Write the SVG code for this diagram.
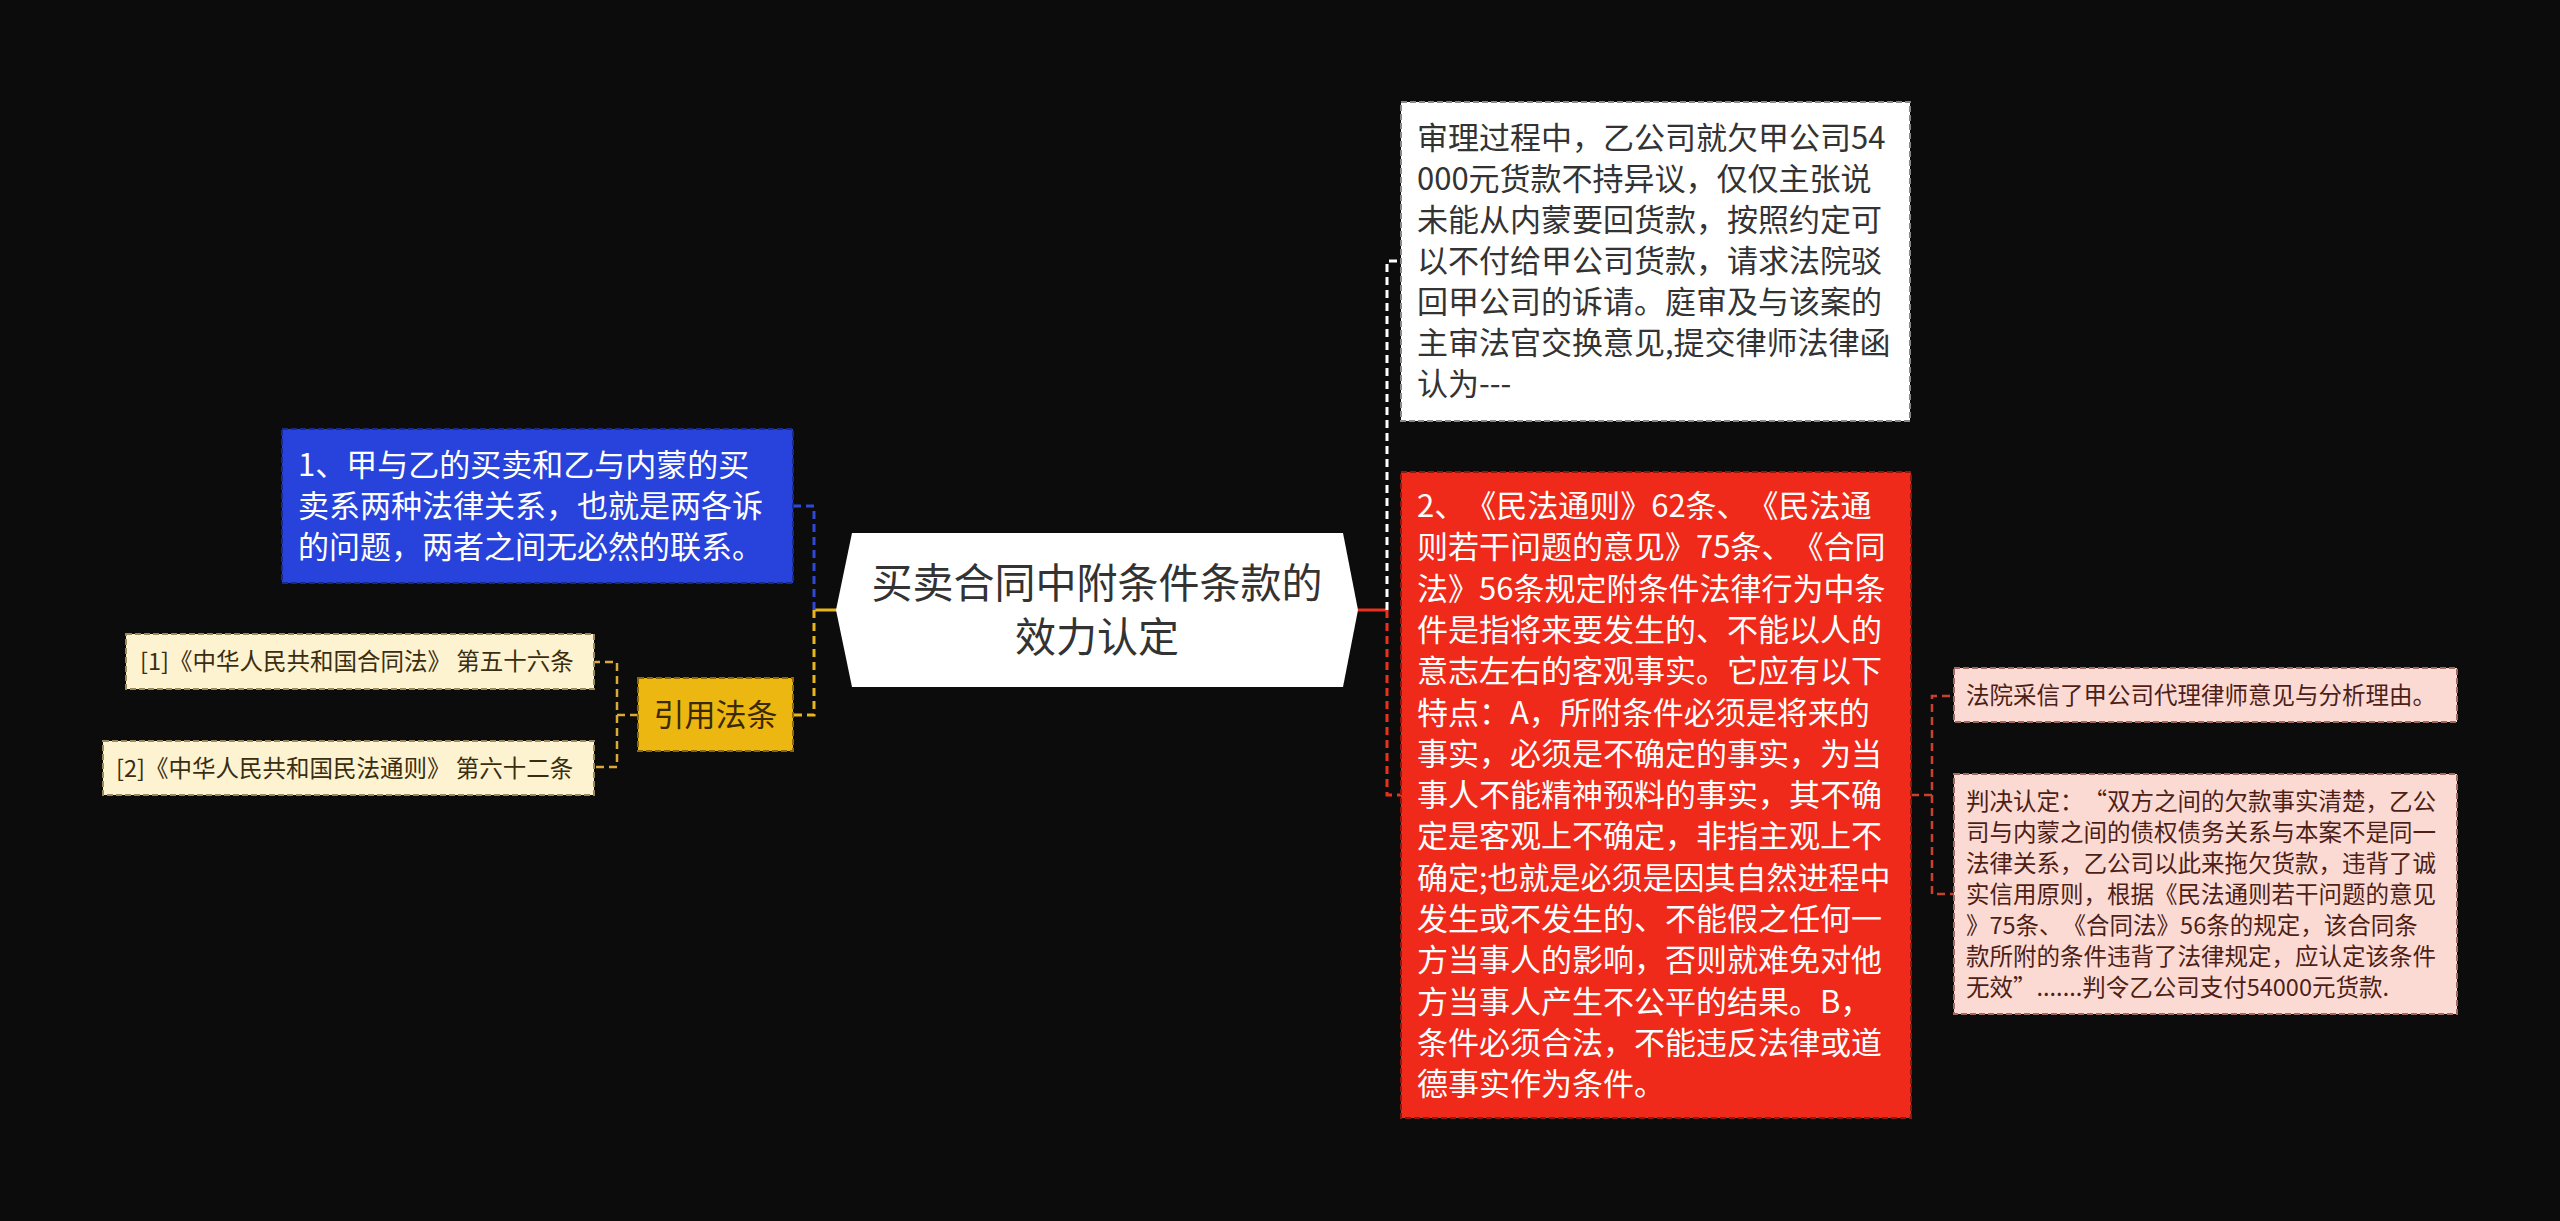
<svg xmlns="http://www.w3.org/2000/svg" width="2560" height="1221" viewBox="0 0 2560 1221">
<style>
text{font-family:"Noto Sans CJK SC","Noto Sans",sans-serif;text-spacing-trim:space-all;font-feature-settings:"chws" 0,"halt" 0;}
.box{stroke-width:2;stroke-dasharray:6 3;}
.c{fill:none;stroke-width:3;stroke-dasharray:8 5;}
.c2{fill:none;stroke-width:2.5;stroke-dasharray:8 5;}
.t31{font-size:31px;}
.t23{font-size:23.5px;}
</style>
<rect x="0" y="0" width="2560" height="1221" fill="#0c0c0c"/>
<g id="connectors">
  <line x1="837" y1="610" x2="814" y2="610" stroke="#E8B51A" stroke-width="3"/>
  <path class="c" d="M814,610 V506 H793" stroke="#2F48D8"/>
  <path class="c" d="M814,610 V715 H793" stroke="#E8B51A"/>
  <path class="c2" d="M638,715 H617 V662 H595" stroke="#D9A93A"/>
  <path class="c2" d="M617,715 V767 H595" stroke="#D9A93A"/>
  <line x1="1358" y1="610" x2="1387" y2="610" stroke="#E8321F" stroke-width="3"/>
  <path class="c" d="M1387,610 V261 H1401" stroke="#FFFFFF"/>
  <path class="c" d="M1387,610 V795 H1401" stroke="#E8321F"/>
  <path class="c2" d="M1911,795 H1932 V696 H1954" stroke="#C9402F"/>
  <path class="c2" d="M1932,795 V894 H1954" stroke="#C9402F"/>
</g>
<g id="root">
  <polygon points="836,610 852,533 1343,533 1358,610 1343,687 852,687" fill="#FFFFFF"/>
  <text x="1097" y="598" font-size="41" fill="#333333" text-anchor="middle">买卖合同中附条件条款的<tspan x="1097" dy="54">效力认定</tspan></text>
</g>
<g id="node-blue">
  <rect class="box" x="282" y="429" width="511" height="154" fill="#2743DB" stroke="#1A2A8A"/>
  <text class="t31" fill="#FFFFFF" x="298" y="476">1、甲与乙的买卖和乙与内蒙的买<tspan x="298" dy="41">卖系两种法律关系，也就是两各诉</tspan><tspan x="298" dy="41">的问题，两者之间无必然的联系。</tspan></text>
</g>
<g id="node-yellow">
  <rect class="box" x="638" y="678" width="155" height="73" fill="#EDB712" stroke="#8A6A08"/>
  <text class="t31" fill="#3B2A00" x="715.5" y="725.5" text-anchor="middle">引用法条</text>
</g>
<g id="node-cite1">
  <rect class="box" x="126" y="634" width="468" height="55" fill="#FDF3D0" stroke="#9A8A5A"/>
  <text class="t23" fill="#3A2E12" x="140" y="669.5">[1]《中华人民共和国合同法》 第五十六条</text>
</g>
<g id="node-cite2">
  <rect class="box" x="103" y="741" width="491" height="54" fill="#FDF3D0" stroke="#9A8A5A"/>
  <text class="t23" fill="#3A2E12" x="116" y="776.5">[2]《中华人民共和国民法通则》 第六十二条</text>
</g>
<g id="node-white">
  <rect class="box" x="1401" y="102" width="509" height="319" fill="#FFFFFF" stroke="#888888"/>
  <text class="t31" fill="#333333" x="1417" y="149">审理过程中，乙公司就欠甲公司54<tspan x="1417" dy="41">000元货款不持异议，仅仅主张说</tspan><tspan x="1417" dy="41">未能从内蒙要回货款，按照约定可</tspan><tspan x="1417" dy="41">以不付给甲公司货款，请求法院驳</tspan><tspan x="1417" dy="41">回甲公司的诉请。庭审及与该案的</tspan><tspan x="1417" dy="41">主审法官交换意见,提交律师法律函</tspan><tspan x="1417" dy="41">认为---</tspan></text>
</g>
<g id="node-red">
  <rect class="box" x="1401" y="472" width="510" height="646" fill="#F02A1B" stroke="#8A1A10"/>
  <text class="t31" fill="#FFFFFF" x="1417" y="517">2、《民法通则》62条、《民法通<tspan x="1417" dy="41.3">则若干问题的意见》75条、《合同</tspan><tspan x="1417" dy="41.3">法》56条规定附条件法律行为中条</tspan><tspan x="1417" dy="41.3">件是指将来要发生的、不能以人的</tspan><tspan x="1417" dy="41.3">意志左右的客观事实。它应有以下</tspan><tspan x="1417" dy="41.3">特点：A，所附条件必须是将来的</tspan><tspan x="1417" dy="41.3">事实，必须是不确定的事实，为当</tspan><tspan x="1417" dy="41.3">事人不能精神预料的事实，其不确</tspan><tspan x="1417" dy="41.3">定是客观上不确定，非指主观上不</tspan><tspan x="1417" dy="41.3">确定;也就是必须是因其自然进程中</tspan><tspan x="1417" dy="41.3">发生或不发生的、不能假之任何一</tspan><tspan x="1417" dy="41.3">方当事人的影响，否则就难免对他</tspan><tspan x="1417" dy="41.3">方当事人产生不公平的结果。B，</tspan><tspan x="1417" dy="41.3">条件必须合法，不能违反法律或道</tspan><tspan x="1417" dy="41.3">德事实作为条件。</tspan></text>
</g>
<g id="node-pink1">
  <rect class="box" x="1954" y="668" width="503" height="54" fill="#FCDAD4" stroke="#A06A60"/>
  <text class="t23" fill="#4D1F17" x="1966" y="703.5">法院采信了甲公司代理律师意见与分析理由。</text>
</g>
<g id="node-pink2">
  <rect class="box" x="1954" y="774" width="503" height="240" fill="#FCDAD4" stroke="#A06A60"/>
  <text class="t23" fill="#4D1F17" x="1966" y="809.5">判决认定：“双方之间的欠款事实清楚，乙公<tspan x="1966" dy="31">司与内蒙之间的债权债务关系与本案不是同一</tspan><tspan x="1966" dy="31">法律关系，乙公司以此来拖欠货款，违背了诚</tspan><tspan x="1966" dy="31">实信用原则，根据《民法通则若干问题的意见</tspan><tspan x="1966" dy="31">》75条、《合同法》56条的规定，该合同条</tspan><tspan x="1966" dy="31">款所附的条件违背了法律规定，应认定该条件</tspan><tspan x="1966" dy="31">无效”.......判令乙公司支付54000元货款.</tspan></text>
</g>
</svg>
